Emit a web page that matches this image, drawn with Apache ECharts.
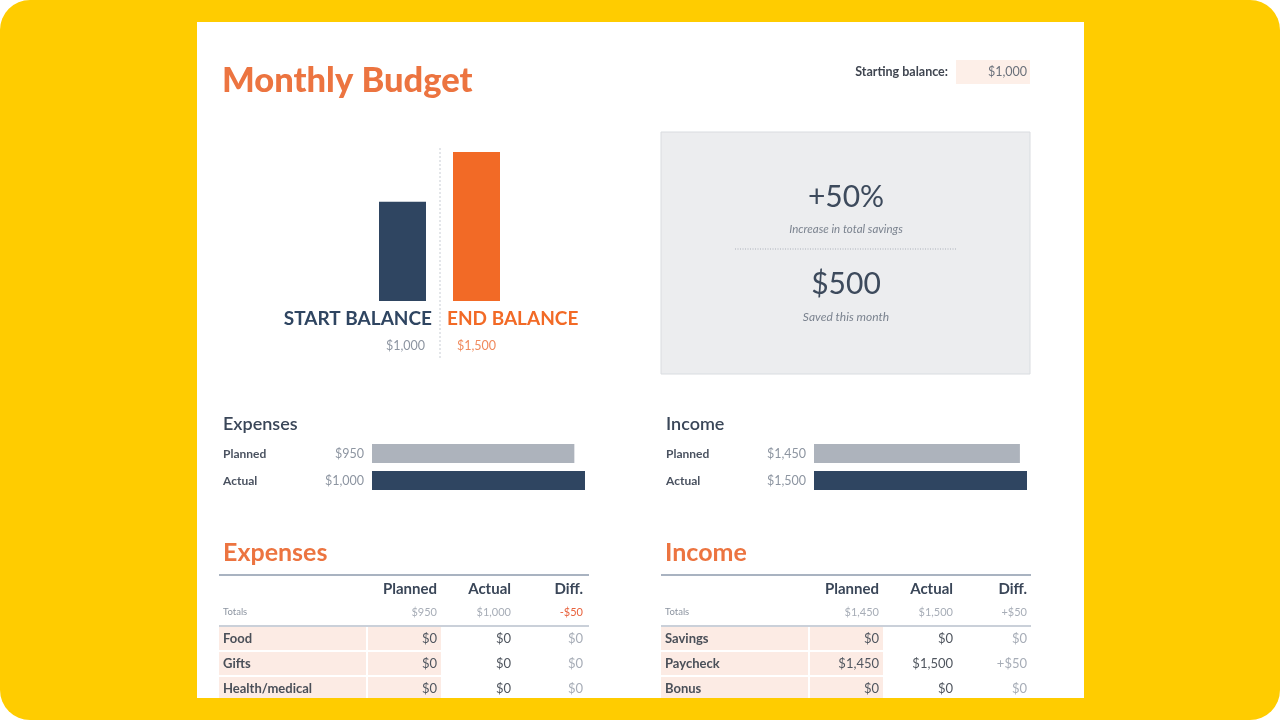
<!DOCTYPE html>
<html>
<head>
<meta charset="utf-8">
<title>Monthly Budget</title>
<script src="https://cdn.jsdelivr.net/npm/echarts@6/dist/echarts.min.js"></script>
<style>
  html, body { margin: 0; padding: 0; background: #ffffff; }
  #chart { width: 1280px; height: 720px; }
</style>
</head>
<body>
<div id="chart"></div>
<script>
// values
const titleText = 'Monthly Budget'
const startingBalance = 1000
const balanceLabels = ['START BALANCE', 'END BALANCE']
const balanceValues = [1000, 1500]
const savingsPercent = 50
const savedThisMonth = 500
const compareLabels = ['Planned', 'Actual']
const expenseCompare = [950, 1000]
const incomeCompare = [1450, 1500]
const tableHeaders = ['Planned', 'Actual', 'Diff.']
const expenseRows = ['Food', 'Gifts', 'Health/medical']
const expensePlanned = [0, 0, 0]
const expenseActual = [0, 0, 0]
const expenseTotals = [950, 1000]
const incomeRows = ['Savings', 'Paycheck', 'Bonus']
const incomePlanned = [0, 1450, 0]
const incomeActual = [0, 1500, 0]
const incomeTotals = [1450, 1500]

const NAVY = '#2f4561'
const ORANGE = '#f26a26'
const TITLE_ORANGE = '#ec7440'
const GREY_BAR = '#adb3bc'
const TEXT_DARK = '#3a4658'
const TEXT_GREY = '#8d95a1'
const PINK = '#fcebe4'
const FONT = 'Lato, "Open Sans", sans-serif'

function money(v) {
  return '$' + Math.abs(v).toLocaleString('en-US')
}
function diffText(d) {
  if (d === 0) return '$0'
  return (d > 0 ? '+' : '-') + money(d)
}

function txt(text, x, y, size, color, opts) {
  opts = opts || {}
  return {
    type: 'text',
    z: 5,
    style: {
      text: text,
      x: x,
      y: y,
      fill: color,
      font: (opts.italic ? 'italic ' : '') + (opts.weight || 'normal') + ' ' + size + 'px ' + FONT,
      textAlign: opts.align || 'left',
      align: opts.align || 'left',
      textVerticalAlign: 'middle',
      verticalAlign: 'middle'
    }
  }
}
function box(x, y, w, h, fill, extra) {
  return Object.assign({
    type: 'rect',
    z: 1,
    shape: { x: x, y: y, width: w, height: h },
    style: { fill: fill }
  }, extra || {})
}
function line(x1, y1, x2, y2, stroke, width, dash) {
  return {
    type: 'line',
    z: 3,
    shape: { x1: x1, y1: y1, x2: x2, y2: y2 },
    style: { stroke: stroke, lineWidth: width, lineDash: dash || null }
  }
}

// one summary table (Expenses / Income)
function makeTable(left, name, rows, planned, actual, totals, sign, diffRight) {
  const cols = [left + 218, left + 292, diffRight]
  const out = []
  out.push(txt(name, left + 4, 553, 25, TITLE_ORANGE, { weight: 'bold' }))
  out.push(line(left, 575, left + 370, 575, '#a9b3c1', 2))
  tableHeaders.forEach((h, i) => out.push(txt(h, cols[i], 589, 15, TEXT_DARK, { weight: 'bold', align: 'right' })))
  const totalDiff = sign * (totals[1] - totals[0])
  out.push(txt('Totals', left + 4, 612, 9.5, TEXT_GREY))
  out.push(txt(money(totals[0]), cols[0], 612, 11, '#a7adb7', { align: 'right' }))
  out.push(txt(money(totals[1]), cols[1], 612, 11, '#a7adb7', { align: 'right' }))
  out.push(txt(diffText(totalDiff), cols[2], 612, 11, totalDiff < 0 ? '#e8623d' : '#a7adb7', { align: 'right' }))
  out.push(line(left, 626, left + 370, 626, '#b8c0cc', 1.5))
  rows.forEach((r, i) => {
    const top = 627 + i * 25
    const h = Math.min(23, 698 - top)
    const cy = top + 11.5
    out.push(box(left, top, 147, h, PINK))
    out.push(box(left + 149, top, 73, h, PINK))
    out.push(txt(r, left + 4, cy, 13, '#4a4f58', { weight: 'bold' }))
    out.push(txt(money(planned[i]), cols[0], cy, 13, '#50565f', { align: 'right' }))
    out.push(txt(money(actual[i]), cols[1], cy, 13, '#50565f', { align: 'right' }))
    out.push(txt(diffText(sign * (actual[i] - planned[i])), cols[2], cy, 13, '#a7adb7', { align: 'right' }))
  })
  return out
}

// label column for the small planned/actual bars
function makeCompareLabels(left, title, valueRight, values) {
  const out = [txt(title, left, 424, 18, TEXT_DARK, { weight: 600 })]
  compareLabels.forEach((l, i) => {
    const cy = 454 + i * 27
    out.push(txt(l, left, cy, 12, '#4a5260', { weight: 'bold' }))
    out.push(txt(money(values[i]), valueRight, cy, 12.5, TEXT_GREY, { align: 'right' }))
  })
  return out
}

const graphics = [
  { type: 'rect', z: 0, shape: { x: 0, y: 0, width: 1280, height: 720, r: 30 }, style: { fill: '#ffcc00' } },
  box(197, 22, 887, 676, '#ffffff', { z: 0 }),
  txt(titleText, 222, 81, 34.5, TITLE_ORANGE, { weight: 900 }),
  txt('Starting balance:', 948, 72, 12.5, '#3f4550', { weight: 'bold', align: 'right' }),
  box(956, 60, 74, 24, '#fdefe8'),
  txt(money(startingBalance), 1027, 72, 12.5, '#6b717b', { align: 'right' }),
  line(440, 148, 440, 358, '#c7ccd3', 1, [2, 2]),
  txt(balanceLabels[0], 432, 319, 19, NAVY, { weight: 'bold', align: 'right' }),
  txt(balanceLabels[1], 447, 319, 19, ORANGE, { weight: 'bold' }),
  txt(money(balanceValues[0]), 425, 346, 12.5, TEXT_GREY, { align: 'right' }),
  txt(money(balanceValues[1]), 457, 346, 12.5, '#f08a5d'),
  box(661, 132, 369, 242, '#ecedef', { style: { fill: '#ecedef', stroke: '#d9dce0', lineWidth: 1 } }),
  txt('+' + savingsPercent + '%', 846, 197, 30, '#3d4a5c', { align: 'center' }),
  txt('Increase in total savings', 846, 229, 11.5, '#7b838f', { italic: true, align: 'center' }),
  line(735, 249, 957, 249, '#a9afb8', 1, [1, 1.5]),
  txt(money(savedThisMonth), 846, 284, 30, '#3d4a5c', { align: 'center' }),
  txt('Saved this month', 846, 317, 12, '#7b838f', { italic: true, align: 'center' })
]
  .concat(makeCompareLabels(223, 'Expenses', 364, expenseCompare))
  .concat(makeCompareLabels(666, 'Income', 806, incomeCompare))
  .concat(makeTable(219, 'Expenses', expenseRows, expensePlanned, expenseActual, expenseTotals, -1, 583))
  .concat(makeTable(661, 'Income', incomeRows, incomePlanned, incomeActual, incomeTotals, 1, 1027))

const hiddenAxis = { show: false }
const option = {
  animation: false,
  backgroundColor: 'transparent',
  graphic: { elements: graphics },
  grid: [
    { left: 365.5, top: 152, width: 148, height: 149 },
    { left: 372, top: 440, width: 213, height: 54 },
    { left: 814, top: 440, width: 213, height: 54 }
  ],
  xAxis: [
    Object.assign({ type: 'category', gridIndex: 0, data: balanceLabels }, hiddenAxis),
    Object.assign({ type: 'value', gridIndex: 1, min: 0, max: 1000 }, hiddenAxis),
    Object.assign({ type: 'value', gridIndex: 2, min: 0, max: 1500 }, hiddenAxis)
  ],
  yAxis: [
    Object.assign({ type: 'value', gridIndex: 0, min: 0, max: 1500 }, hiddenAxis),
    Object.assign({ type: 'category', gridIndex: 1, data: compareLabels, inverse: true }, hiddenAxis),
    Object.assign({ type: 'category', gridIndex: 2, data: compareLabels, inverse: true }, hiddenAxis)
  ],
  series: [
    {
      type: 'bar', xAxisIndex: 0, yAxisIndex: 0, barWidth: 47, z: 4,
      data: balanceValues.map((v, i) => ({ value: v, itemStyle: { color: i === 0 ? NAVY : ORANGE } }))
    },
    {
      type: 'bar', xAxisIndex: 1, yAxisIndex: 1, barWidth: 19, z: 4,
      data: expenseCompare.map((v, i) => ({ value: v, itemStyle: { color: i === 0 ? GREY_BAR : NAVY } }))
    },
    {
      type: 'bar', xAxisIndex: 2, yAxisIndex: 2, barWidth: 19, z: 4,
      data: incomeCompare.map((v, i) => ({ value: v, itemStyle: { color: i === 0 ? GREY_BAR : NAVY } }))
    }
  ]
}

const budgetChart = echarts.init(document.getElementById('chart'))
budgetChart.setOption(option)
window.addEventListener('resize', () => budgetChart.resize())
</script>
</body>
</html>
